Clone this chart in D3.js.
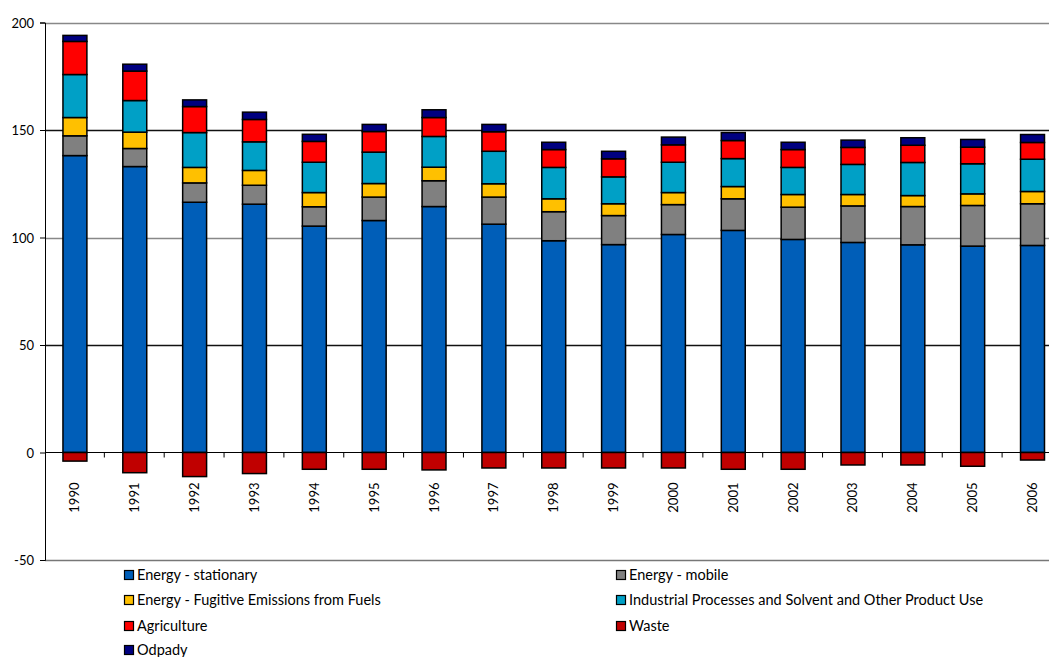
<!doctype html>
<html>
<head>
<meta charset="utf-8">
<style>
    body { margin: 0; background: white; }
    svg { display: block; }
    .tick text, .lbl { font: 13px "Lato", "Open Sans", sans-serif; fill: black; }
    .legend text { font: 14.5px "Lato", "Open Sans", sans-serif; fill: black; }
</style>
</head>
<body>
<script src="https://cdn.jsdelivr.net/npm/d3@7"></script>
<script>
    const years = ["1990", "1991", "1992", "1993", "1994", "1995", "1996", "1997", "1998",
        "1999", "2000", "2001", "2002", "2003", "2004", "2005", "2006"];

    const stationary = [138.1, 133.0, 116.4, 115.5, 105.3, 107.9, 114.4, 106.2, 98.5, 96.7, 101.4, 103.3, 99.1, 97.7, 96.6, 96.0, 96.3];
    const mobile     = [9.2, 8.4, 9.0, 8.8, 9.0, 10.9, 12.0, 12.6, 13.5, 13.5, 13.9, 14.7, 15.0, 17.0, 17.8, 18.9, 19.4];
    const fugitive   = [8.5, 7.6, 7.2, 6.9, 6.6, 6.3, 6.3, 6.2, 6.0, 5.5, 5.6, 5.7, 5.9, 5.3, 5.1, 5.4, 5.7];
    const industrial = [20.0, 14.7, 16.2, 13.3, 14.1, 14.6, 14.3, 15.1, 14.6, 12.5, 14.1, 13.0, 12.6, 14.0, 15.4, 14.0, 15.0];
    const agriculture = [15.4, 13.7, 12.1, 10.4, 9.7, 9.6, 8.8, 9.1, 8.3, 8.4, 8.1, 8.4, 8.3, 7.9, 8.0, 7.7, 7.8];
    const odpady     = [2.8, 3.2, 3.1, 3.4, 3.3, 3.3, 3.6, 3.4, 3.4, 3.5, 3.6, 3.7, 3.4, 3.4, 3.5, 3.6, 3.7];
    const waste      = [-4.0, -9.4, -11.2, -9.8, -7.8, -7.8, -8.1, -7.2, -7.2, -7.2, -7.2, -7.8, -7.8, -5.8, -5.8, -6.4, -3.5];

    const yTicks = [-50, 0, 50, 100, 150, 200];

    const series = [
        { name: "Energy - stationary", values: stationary, color: "#005EB8" },
        { name: "Energy - mobile", values: mobile, color: "#808080" },
        { name: "Energy - Fugitive Emissions from Fuels", values: fugitive, color: "#FFC000" },
        { name: "Industrial Processes and Solvent and Other Product Use", values: industrial, color: "#00A0C6" },
        { name: "Agriculture", values: agriculture, color: "#FF0000" },
        { name: "Waste", values: waste, color: "#C00000" },
        { name: "Odpady", values: odpady, color: "#000080" }
    ];

    const width = 1049, height = 657;
    const plotLeft = 45, plotTop = 22.5, plotBottom = 560;
    const band = 59.85;

    const svg = d3.select("body").append("svg")
        .attr("width", width)
        .attr("height", height);

    const x = d3.scaleBand()
        .domain(years)
        .range([plotLeft, plotLeft + band * years.length])
        .paddingInner(0.6)
        .paddingOuter(0.3);
    const y = d3.scaleLinear().domain([-50, 200]).range([plotBottom, plotTop]);

    // gridlines
    svg.append("g")
        .selectAll("line")
        .data(yTicks.filter(d => d !== 0 && d !== -50))
        .join("line")
        .attr("x1", plotLeft).attr("x2", width)
        .attr("y1", d => Math.round(y(d)) + 0.5).attr("y2", d => Math.round(y(d)) + 0.5)
        .attr("stroke", d => (d === 150 || d === 50) ? "#111" : "#888")
        .attr("stroke-width", 1.3);
    svg.append("line")
        .attr("x1", plotLeft).attr("x2", width)
        .attr("y1", plotBottom + 0.5).attr("y2", plotBottom + 0.5)
        .attr("stroke", "#777").attr("stroke-width", 1.3);

    // stacked positive parts
    const pos = series.filter(s => s.name !== "Waste");
    const rows = years.map((yr, i) => {
        const r = { year: yr };
        pos.forEach(s => r[s.name] = s.values[i]);
        return r;
    });
    const stack = d3.stack().keys(pos.map(s => s.name))(rows);

    stack.forEach((layer, k) => {
        svg.append("g")
            .selectAll("rect")
            .data(layer)
            .join("rect")
            .attr("x", d => x(d.data.year))
            .attr("width", x.bandwidth())
            .attr("y", d => y(d[1]))
            .attr("height", d => y(d[0]) - y(d[1]))
            .attr("fill", pos[k].color)
            .attr("stroke", "black")
            .attr("stroke-width", 1.5);
    });

    // negative waste
    svg.append("g")
        .selectAll("rect")
        .data(waste)
        .join("rect")
        .attr("x", (d, i) => x(years[i]))
        .attr("width", x.bandwidth())
        .attr("y", y(0))
        .attr("height", d => y(d) - y(0))
        .attr("fill", "#C00000")
        .attr("stroke", "black")
        .attr("stroke-width", 1.5);

    // zero axis with ticks between bars
    svg.append("line")
        .attr("x1", plotLeft).attr("x2", width)
        .attr("y1", y(0)).attr("y2", y(0))
        .attr("stroke", "black").attr("stroke-width", 1.2);
    svg.append("g")
        .selectAll("line")
        .data(years.slice(1))
        .join("line")
        .attr("x1", d => x(d) - x.step() * x.paddingInner() / 2 - 0.5)
        .attr("x2", d => x(d) - x.step() * x.paddingInner() / 2 - 0.5)
        .attr("y1", y(0)).attr("y2", y(0) + 5)
        .attr("stroke", "black");

    svg.append("g")
        .selectAll("text")
        .data(years)
        .join("text")
        .attr("class", "lbl")
        .attr("transform", d => `translate(${x(d) + x.bandwidth() / 2 + 4.5},${y(0) + 30}) rotate(-90)`)
        .attr("text-anchor", "end")
        .text(d => d);

    // y axis
    const yAxis = svg.append("g")
        .attr("transform", `translate(${plotLeft},0)`)
        .call(d3.axisLeft(y).tickValues(yTicks).tickSize(5).tickPadding(6).tickFormat(d => String(d)));
    yAxis.select(".domain").attr("stroke", "black");
    yAxis.selectAll(".tick text").attr("dy", "0.35em");

    // legend
    const legend = svg.append("g").attr("class", "legend");
    const legendPos = [[124, 575], [616, 575], [124, 600], [616, 600], [124, 626], [616, 626], [124, 650]];
    series.forEach((s, i) => {
        const g = legend.append("g")
            .attr("transform", `translate(${legendPos[i][0]},${legendPos[i][1]})`);
        g.append("rect")
            .attr("x", 0.5).attr("y", -4.5)
            .attr("width", 9).attr("height", 9)
            .attr("fill", s.color)
            .attr("stroke", "black")
            .attr("stroke-width", 1.2);
        g.append("text")
            .attr("x", 13)
            .attr("dy", "0.35em")
            .text(s.name);
    });
</script>
</body>
</html>
